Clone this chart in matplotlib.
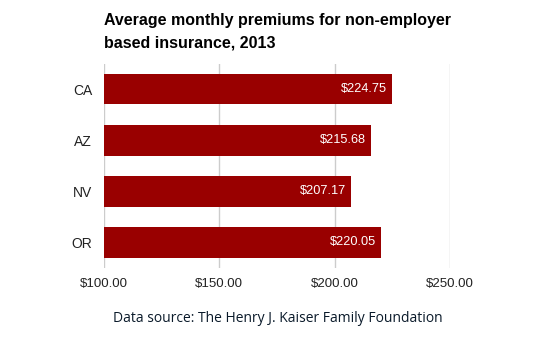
import matplotlib.pyplot as plt
from matplotlib.ticker import FuncFormatter

states = ["CA", "AZ", "NV", "OR"]
premiums = [224.75, 215.68, 207.17, 220.05]
x_ticks = [100, 150, 200, 250]

W, H = 555, 357
fig = plt.figure(figsize=(W / 100, H / 100), dpi=100)
plt.rcParams["font.family"] = ["Liberation Sans", "DejaVu Sans"]

# axes placed in pixel coordinates of the reference
left, right, top, bottom = 104, 450, 63.5, 268
ax = fig.add_axes([left / W, 1 - bottom / H, (right - left) / W, (bottom - top) / H])

ypos = list(range(len(states)))[::-1]
ax.barh(ypos, [p - 100 for p in premiums], left=100, height=0.6, color="#990000", zorder=2)

for y, p in zip(ypos, premiums):
    ax.text(p - 2.0, y, "$%.2f" % p, ha="right", va="center", color="white", fontsize=9.2, zorder=3)

ax.set_xlim(100, 250)
ax.set_ylim(-0.5, len(states) - 0.5)
ax.set_xticks(x_ticks)
ax.xaxis.set_major_formatter(FuncFormatter(lambda v, _: "$%.2f" % v))
ax.set_yticks(ypos)
ax.set_yticklabels(states)
ax.tick_params(length=0, labelsize=9.5, colors="#222222")
ax.tick_params(axis="y", labelsize=10, pad=8.5)
ax.tick_params(axis="x", pad=7)
ax.grid(axis="x", color="#cccccc", linewidth=1, zorder=0)
for s in ax.spines.values():
    s.set_visible(False)

fig.text(104 / W, 1 - 13 / H, "Average monthly premiums for non-employer\nbased insurance, 2013",
         ha="left", va="top", fontsize=11.5, fontweight="bold", linespacing=1.65)
fig.text(278 / W, 1 - 318 / H, "Data source: The Henry J. Kaiser Family Foundation",
         ha="center", va="center", fontsize=10, color="#0a1a2a", family=["Open Sans", "DejaVu Sans"])

fig.savefig("out.png", dpi=100)
